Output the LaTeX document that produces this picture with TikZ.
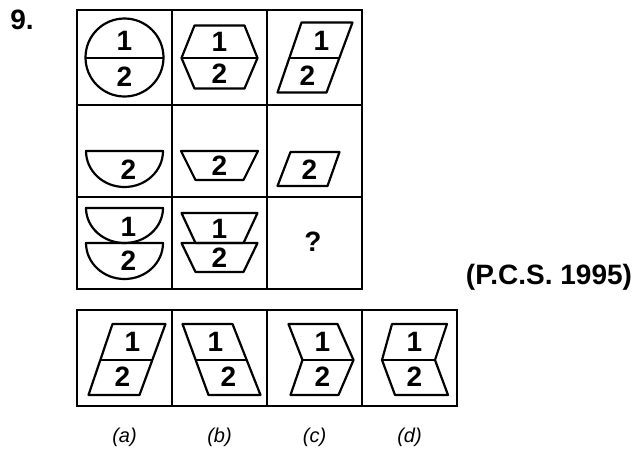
\documentclass[tikz,border=0pt]{standalone}
\usepackage{fontspec}
\setmainfont{Liberation Sans}
\usetikzlibrary{positioning}
\tikzset{
  cell/.style={
    draw, line width=2.4pt, minimum width=95pt,
    inner sep=0pt, outer sep=0pt
  },
  fig/.style={line width=2.2pt, line join=round},
  num/.style={font=\fontsize{28}{28}\selectfont\bfseries, inner sep=0pt},
  lbl/.style={font=\fontsize{20}{20}\selectfont\itshape, inner sep=0pt},
  tag/.style={font=\fontsize{28}{28}\selectfont\bfseries, inner sep=0pt}
}

\begin{document}
\begin{tikzpicture}[x=1pt, y=-1pt]
    \useasboundingbox (0,0) rectangle (638,459);
    % question grid
    \node[cell, minimum height=95pt] (c11) at (124.5,57.5) {};
    \node[cell, minimum height=95pt, right=0pt of c11] (c12) {};
    \node[cell, minimum height=95pt, right=0pt of c12] (c13) {};
    \node[cell, minimum height=92pt, below=0pt of c11] (c21) {};
    \node[cell, minimum height=92pt, right=0pt of c21] (c22) {};
    \node[cell, minimum height=92pt, right=0pt of c22] (c23) {};
    \node[cell, minimum height=92pt, below=0pt of c21] (c31) {};
    \node[cell, minimum height=92pt, right=0pt of c31] (c32) {};
    \node[cell, minimum height=92pt, right=0pt of c32] (c33) {};
    % answer strip
    \node[cell, minimum height=96pt] (o1) at (124.5,358) {};
    \node[cell, minimum height=96pt, right=0pt of o1] (o2) {};
    \node[cell, minimum height=96pt, right=0pt of o2] (o3) {};
    \node[cell, minimum height=96pt, right=0pt of o3] (o4) {};

    \node[tag] (qno) at (22,20) {9.};
    \node[tag] (src) at (549,277) {(P.C.S. 1995)};

    % row 1
    \begin{scope}[shift={(c11.center)}]
      \draw[fig] (0,0) circle[radius=39];
      \draw[fig] (-39,0.5) -- (39,0.5);
      \node[num] (t11a) at (0,-17) {1};
      \node[num] (t11b) at (0,19) {2};
    \end{scope}
    \begin{scope}[shift={(c12.center)}]
      \draw[fig] (-25,-32) -- (25,-32) -- (38,0.5) -- (25,31) -- (-25,31) -- (-38,0.5) -- cycle;
      \draw[fig] (-38,0.5) -- (38,0.5);
      \node[num] (t12a) at (0,-16) {1};
      \node[num] (t12b) at (0,16) {2};
    \end{scope}
    \begin{scope}[shift={(c13.center)}]
      \draw[fig] (-13,-35) -- (38,-35) -- (12,35) -- (-37,35) -- cycle;
      \draw[fig] (-25,0.5) -- (25,0.5);
      \node[num] (t13a) at (7,-17) {1};
      \node[num] (t13b) at (-7,18) {2};
    \end{scope}

    % row 2
    \begin{scope}[shift={(c21.center)}]
      \draw[fig] (-38.5,0) -- (38.5,0) arc[start angle=0, end angle=180, x radius=38.5, y radius=36] -- cycle;
      \node[num] (t21b) at (4,19) {2};
    \end{scope}
    \begin{scope}[shift={(c22.center)}]
      \draw[fig] (-38.5,0) -- (38.5,0) -- (24,29) -- (-24,29) -- cycle;
      \node[num] (t22b) at (0,15) {2};
    \end{scope}
    \begin{scope}[shift={(c23.center)}]
      \draw[fig] (-24,1) -- (25,1) -- (13,35) -- (-37,35) -- cycle;
      \node[num] (t23b) at (-5,19) {2};
    \end{scope}

    % row 3
    \begin{scope}[shift={(c31.center)}]
      \draw[fig] (-38.5,-35) -- (38.5,-35) arc[start angle=0, end angle=180, x radius=38.5, y radius=35] -- cycle;
      \draw[fig] (-38.5,0) -- (38.5,0) arc[start angle=0, end angle=180, x radius=38.5, y radius=36] -- cycle;
      \node[num] (t31a) at (4,-16) {1};
      \node[num] (t31b) at (4,18) {2};
    \end{scope}
    \begin{scope}[shift={(c32.center)}]
      \draw[fig] (-38,-30) -- (38,-30) -- (24,0) -- (-24,0) -- cycle;
      \draw[fig] (-38,0) -- (38,0) -- (24,29) -- (-24,29) -- cycle;
      \node[num] (t32a) at (0,-14) {1};
      \node[num] (t32b) at (0,15) {2};
    \end{scope}
    \node[num] (ask) at ([shift={(-1.5,-1)}]c33.center) {?};

    % options
    \begin{scope}[shift={(o1.center)}]
      \draw[fig] (-12,-34) -- (41,-34) -- (15,37) -- (-36,37) -- cycle;
      \draw[fig] (-24,2) -- (28,2);
      \node[num] (ta1) at (8,-16) {1};
      \node[num] (ta2) at (-2,19) {2};
    \end{scope}
    \begin{scope}[shift={(o2.center)}]
      \draw[fig] (-37,-34) -- (13,-34) -- (41,37) -- (-11,37) -- cycle;
      \draw[fig] (-24,2) -- (27,2);
      \node[num] (tb1) at (-4,-16) {1};
      \node[num] (tb2) at (9,19) {2};
    \end{scope}
    \begin{scope}[shift={(o3.center)}]
      \draw[fig] (-26,-34) -- (23,-34) -- (39,2) -- (24,37) -- (-24,37) -- (-12,2) -- cycle;
      \draw[fig] (-12,2) -- (39,2);
      \node[num] (tc1) at (8,-16) {1};
      \node[num] (tc2) at (8,19) {2};
    \end{scope}
    \begin{scope}[shift={(o4.center)}]
      \draw[fig] (-17.5,-34) -- (37.5,-34) -- (25.5,2) -- (38.5,37) -- (-14.5,37) -- (-27.5,2) -- cycle;
      \draw[fig] (-27.5,2) -- (25.5,2);
      \node[num] (td1) at (5,-16) {1};
      \node[num] (td2) at (5,19) {2};
    \end{scope}

    \node[lbl, below=22pt of o1] (la) {(a)};
    \node[lbl, below=22pt of o2] (lb) {(b)};
    \node[lbl, below=22pt of o3] (lc) {(c)};
    \node[lbl, below=22pt of o4] (ld) {(d)};
  \end{tikzpicture}
\end{document}
